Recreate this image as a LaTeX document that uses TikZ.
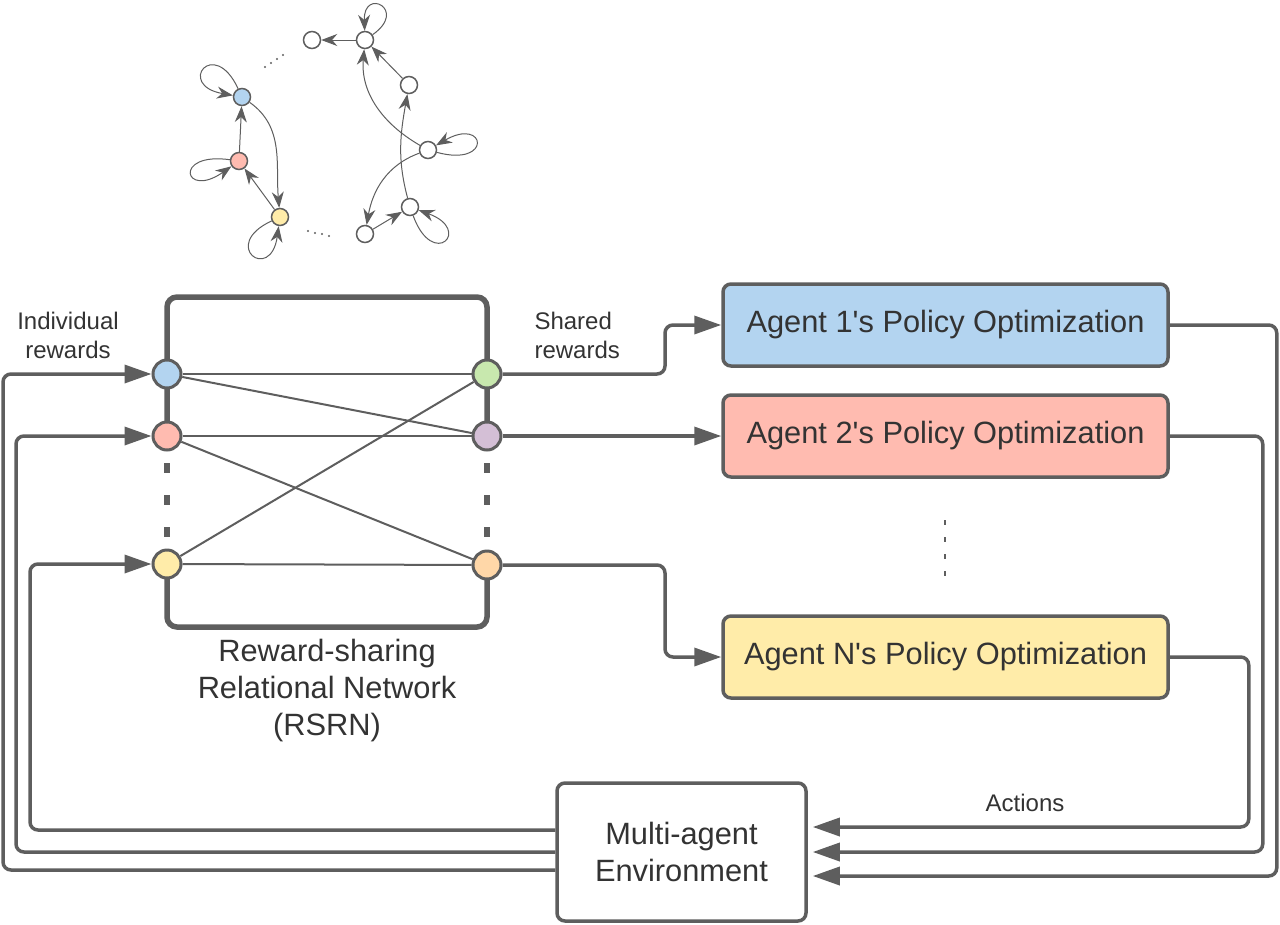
\documentclass[tikz,border=0pt]{standalone}
\usepackage{fontspec}
\setmainfont{Liberation Sans}
\usetikzlibrary{arrows.meta,backgrounds}
\definecolor{linegray}{HTML}{5E5E5E}
\definecolor{textgray}{HTML}{333333}
\definecolor{fillblue}{HTML}{B3D4F0}
\definecolor{fillred}{HTML}{FFBBB0}
\definecolor{fillyellow}{HTML}{FFECA9}
\definecolor{fillgreen}{HTML}{C8E8AE}
\definecolor{fillpurple}{HTML}{D4BFD6}
\definecolor{fillorange}{HTML}{FFD7A8}
\newcommand{\bigfont}{\fontsize{30.8}{37}\selectfont}
\newcommand{\smallfont}{\fontsize{24}{29}\selectfont}
\begin{document}
\begin{tikzpicture}[x=1pt,y=1pt,
	rnode/.style={circle,draw=linegray,line width=3pt,minimum size=28pt,inner sep=0pt},
	smallnode/.style={circle,draw=linegray,line width=1.5pt,minimum size=17pt,inner sep=0pt,fill=white},
	smallarc/.style={draw=linegray,line width=1pt,-{Stealth[length=16pt,width=12pt]}},
	selfloop/.style={smallarc,min distance=58pt},
	frame/.style={draw=linegray,line width=5.5pt,rounded corners=10pt},
	edgeline/.style={draw=linegray,line width=2pt},
	conn/.style={draw=linegray,line width=3.5pt,rounded corners=8pt,-{Triangle[length=27pt,width=18pt]}},
	agentbox/.style={draw=linegray,line width=3.5pt,rounded corners=8pt,minimum width=445pt,minimum height=82pt,font=\bigfont,text=textgray},
	bigtext/.style={font=\bigfont,text=textgray},
	smalltext/.style={font=\smallfont,text=textgray}]
	\useasboundingbox (0,0) rectangle (1280,-924);

	% small relational graph
	\node[smallnode,fill=fillblue] (g1) at (242,-97) {};
	\node[smallnode,fill=fillred] (g2) at (239,-161) {};
	\node[smallnode,fill=fillyellow] (g3) at (280,-217) {};
	\node[smallnode] (h1) at (312,-40) {};
	\node[smallnode] (h2) at (365,-40) {};
	\node[smallnode] (h3) at (409,-85) {};
	\node[smallnode] (h4) at (428,-150) {};
	\node[smallnode] (h5) at (410,-207) {};
	\node[smallnode] (h6) at (365,-234) {};
	\draw[smallarc] (g2) -- (g1);
	\draw[smallarc] (g1) to[out=-35,in=95] (g3);
	\draw[smallarc] (g3) -- (g2);
	\draw[selfloop] (g1) to[out=115,in=170] (g1);
	\draw[selfloop] (g2) to[out=172,in=215] (g2);
	\draw[selfloop] (g3) to[out=205,in=262] (g3);
	\draw[smallarc] (h2) -- (h1);
	\draw[smallarc] (h3) -- (h2);
	\draw[smallarc] (h4) to[out=150,in=-95] (h2);
	\draw[smallarc] (h4) to[out=200,in=80] (h6);
	\draw[smallarc] (h5) to[out=105,in=-100] (h3);
	\draw[smallarc] (h6) -- (h5);
	\draw[selfloop,min distance=44pt] (h2) to[out=35,in=92] (h2);
	\draw[selfloop] (h4) to[out=-15,in=30] (h4);
	\draw[selfloop] (h5) to[out=-70,in=-20] (h5);
	\foreach \x/\y in {265/67,271/63,277/59,283/55}
		\fill[linegray] (\x,-\y) circle (1.2pt);
	\foreach \x/\y in {308/231,315/233,322/234,329/236}
		\fill[linegray] (\x,-\y) circle (1.2pt);

	% reward-sharing network
	\node[rnode,fill=fillblue] (in1) at (167,-374) {};
	\node[rnode,fill=fillred] (in2) at (167,-436) {};
	\node[rnode,fill=fillyellow] (inN) at (167,-564) {};
	\node[rnode,fill=fillgreen] (out1) at (487,-374) {};
	\node[rnode,fill=fillpurple] (out2) at (487,-436) {};
	\node[rnode,fill=fillorange] (outN) at (487,-565) {};
	\begin{pgfonlayer}{background}
		\draw[frame] (in2.center) |- (out2 |- 0,-297) -- (out2.center);
		\draw[frame] (inN.center) |- (outN |- 0,-627) -- (outN.center);
		\draw[frame,rounded corners=0pt,dash pattern=on 10pt off 22pt] ([yshift=-27pt]in2.center) -- ([yshift=27pt]inN.center);
		\draw[frame,rounded corners=0pt,dash pattern=on 10pt off 22pt] ([yshift=-27pt]out2.center) -- ([yshift=28pt]outN.center);
	\end{pgfonlayer}
	\foreach \a/\b in {in1/out1,in1/out2,in2/out2,in2/outN,inN/out1,inN/outN}
		\draw[edgeline] (\a) -- (\b);
	\node[smalltext,align=center] (lblind) at (68,-335) {Individual\\rewards};
	\node[smalltext,align=left,anchor=west] (lblshared) at (531,-335) {Shared\\rewards};
	\node[bigtext,align=center] (lblrsrn) at (327,-691) {Reward-sharing\\Relational Network\\(RSRN)};

	% agents and environment
	\node[agentbox,fill=fillblue] (agent1) at (945.5,-325) {Agent 1\textquotesingle s Policy Optimization};
	\node[agentbox,fill=fillred] (agent2) at (945.5,-436) {Agent 2\textquotesingle s Policy Optimization};
	\node[agentbox,fill=fillyellow] (agentN) at (945.5,-657) {Agent N\textquotesingle s Policy Optimization};
	\node[agentbox,fill=white,minimum width=249pt,minimum height=138pt,align=center] (env) at (681.5,-852) {Multi-agent\\Environment};
	\draw[linegray,line width=2.5pt,dash pattern=on 5pt off 12pt] (945,-520) -- (945,-577);
	\node[smalltext] (lblact) at (1025,-803) {Actions};

	\draw[conn] (out1) -- (out1 -| 665,0) |- (agent1);
	\draw[conn] (out2) -- (agent2);
	\draw[conn] (outN) -- (outN -| 665,0) |- (agentN);
	\draw[conn] (agent1.east) -- ++(107,0) |- ([xshift=5pt,yshift=-24pt]env.east);
	\draw[conn] (agent2.east) -- ++(93,0) |- ([xshift=5pt]env.east);
	\draw[conn] (agentN.east) -- ++(79,0) |- ([xshift=5pt,yshift=25pt]env.east);
	\draw[conn] ([yshift=-18pt]env.west) -| (in1 -| 3,0) -- (in1);
	\draw[conn] (env.west) -| (in2 -| 16,0) -- (in2);
	\draw[conn] ([yshift=22pt]env.west) -| (inN -| 30,0) -- (inN);
\end{tikzpicture}
\end{document}
